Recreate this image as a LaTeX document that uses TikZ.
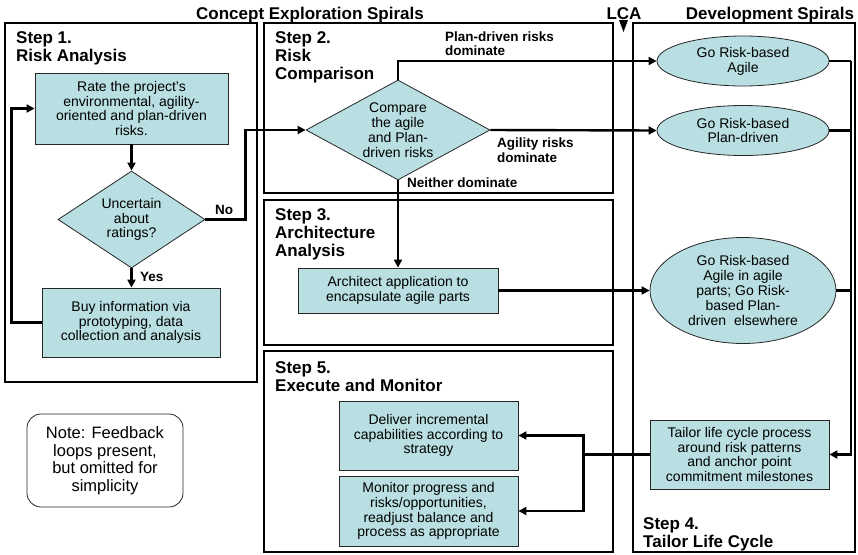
\documentclass[tikz,border=0pt]{standalone}
\usepackage{fontspec}
\setmainfont{Liberation Sans}
\usetikzlibrary{shapes.geometric,arrows.meta}
\definecolor{stepfill}{RGB}{185,223,226}
\begin{document}
\begin{tikzpicture}[x=1pt,y=-1pt,
  bodyfont/.style={font=\fontsize{14}{14.8}\selectfont},
  procbox/.style={draw=black!85,line width=0.8pt,fill=stepfill,align=center,inner sep=0pt,bodyfont},
  decision/.style={procbox,diamond},
  outcome/.style={procbox,ellipse},
  frame/.style={draw=black,line width=1.4pt},
  heading/.style={font=\fontsize{17}{18}\selectfont\bfseries,align=left,anchor=north west,inner sep=0pt},
  title/.style={font=\fontsize{17}{18}\selectfont\bfseries,anchor=base,inner sep=0pt},
  flowlbl/.style={font=\fontsize{13.5}{14.5}\selectfont\bfseries,align=left,anchor=north west,inner sep=0pt},
  flow/.style={line width=2.4pt,-{Triangle[length=8pt,width=8pt]}},
  link/.style={line width=2.4pt},
]
\useasboundingbox (0,0) rectangle (858,554);

% spiral titles and the LCA milestone
\node[title] (concept) at (310,19) {Concept Exploration Spirals};
\node[title] (lca) at (624,19) {LCA};
\node[title] (devel) at (770,19) {Development Spirals};
\fill (619,20) -- (628,20) -- (623.5,32) -- cycle;

% step frames
\draw[frame] (5,23) rectangle (257,382);
\draw[frame] (264,23) rectangle (613,193);
\draw[frame] (264,200) rectangle (613,345);
\draw[frame] (264,351) rectangle (613,552);
\draw[frame] (633,23) rectangle (855,552);

% step headings
\node[heading] (h1) at (16,31.5) {Step 1.\\Risk Analysis};
\node[heading] (h2) at (275,31.5) {Step 2.\\Risk\\Comparison};
\node[heading] (h3) at (275,208) {Step 3.\\Architecture\\Analysis};
\node[heading] (h5) at (275,361) {Step 5.\\Execute and Monitor};
\node[heading] (h4) at (643,517) {Step 4.\\Tailor Life Cycle};

% Step 1
\node[procbox,minimum width=193,minimum height=71] (rate) at (131.5,108.5)
  {Rate the project's\\environmental, agility-\\oriented and plan-driven\\risks.};
\node[decision,minimum width=147,minimum height=97,shape aspect=1.5] (unc) at (131.5,219.5)
  {Uncertain\\about\\ratings?};
\node[procbox,minimum width=178,minimum height=69] (buy) at (131,322.5)
  {Buy information via\\prototyping, data\\collection and analysis};

% Step 2
\node[decision,minimum width=184,minimum height=100,shape aspect=1.84] (cmp) at (398,130)
  {Compare\\the agile\\and Plan-\\driven risks};

% Step 3
\node[procbox,minimum width=200,minimum height=45] (arch) at (398,290.5)
  {Architect application to\\encapsulate agile parts};

% Step 5
\node[procbox,minimum width=179,minimum height=69] (deliver) at (428.5,435.5)
  {Deliver incremental\\capabilities according to\\strategy};
\node[procbox,minimum width=179,minimum height=70] (monitor) at (428.5,511)
  {Monitor progress and\\risks/opportunities,\\readjust balance and\\process as appropriate};

% Step 4 / development spirals
\node[outcome,minimum width=172,minimum height=50] (e1) at (743,61)
  {Go Risk-based\\Agile};
\node[outcome,minimum width=172,minimum height=50] (e2) at (743,130.5)
  {Go Risk-based\\Plan-driven};
\node[outcome,minimum width=186,minimum height=106] (e3) at (743,290.5)
  {Go Risk-based\\Agile in agile\\parts; Go Risk-\\based Plan-\\driven~ elsewhere};
\node[procbox,minimum width=179,minimum height=69] (tailor) at (739.5,454.5)
  {Tailor life cycle process\\around risk patterns\\and anchor point\\commitment milestones};

% note
\node[draw=black!85,line width=0.8pt,rounded corners=14pt,minimum width=156,minimum height=93,
  align=center,inner sep=0pt,font=\fontsize{16.5}{17.5}\selectfont] (note) at (105,460.5)
  {Note: Feedback\\loops present,\\but omitted for\\simplicity};

% Step 1 flow
\draw[flow] (rate.south) -- (unc.north);
\draw[flow] (unc.south) -- (unc.south |- buy.north);
\node[flowlbl] (yes) at (140,272) {Yes};
\draw[flow] (buy.west) -- ++(-30,0) |- (rate.west);
\draw[flow] (unc.east) -- ++(40,0) |- (cmp.west);
\node[flowlbl] (no) at (215,205) {No};

% Step 2 outcomes
\draw[flow] (cmp.north) |- (e1.west);
\node[flowlbl] (plandom) at (445,31.5) {Plan-driven risks\\dominate};
\draw[flow] (cmp.east) -- (e2.west);
\node[flowlbl] (agildom) at (497,138) {Agility risks\\dominate};
\draw[flow] (cmp.south) -- (arch.north);
\node[flowlbl] (neither) at (407,178) {Neither dominate};
\draw[flow] (arch.east) -- (e3.west);

% development spirals feed the life-cycle tailoring
\coordinate (rail) at (851,0);
\draw[link] (e1.east) -- (e1.east -| rail);
\draw[link] (e2.east) -- (e2.east -| rail);
\draw[link] (e3.east) -- (e3.east -| rail);
\draw[flow] (e1.east -| rail) |- (tailor.east);

% tailoring drives execution and monitoring
\path (tailor.west) ++(-66,0) coordinate (split);
\draw[link] (tailor.west) -- (split);
\draw[flow] (split) |- (deliver.east);
\draw[flow] (split) |- (monitor.east);
\end{tikzpicture}
\end{document}
